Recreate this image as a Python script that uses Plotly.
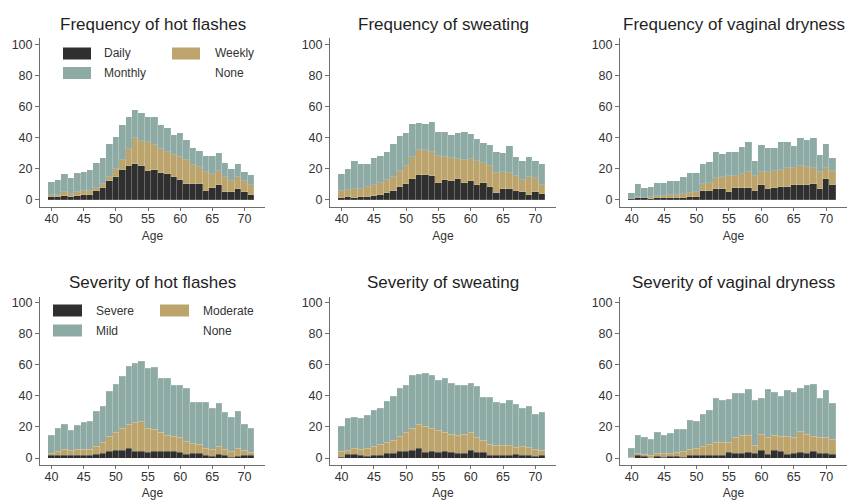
import plotly.graph_objects as go

ages = list(range(40, 72))
x_ticks = [40, 45, 50, 55, 60, 65, 70]
y_ticks = [0, 20, 40, 60, 80, 100]

titles = ["Frequency of hot flashes", "Frequency of sweating", "Frequency of vaginal dryness",
          "Severity of hot flashes", "Severity of sweating", "Severity of vaginal dryness"]
freq_labels = ["Daily", "Weekly", "Monthly", "None"]
sev_labels = ["Severe", "Moderate", "Mild", "None"]

# Frequency of hot flashes
hot_daily = [1.7, 2, 2.5, 2, 2.5, 3, 3.5, 6, 7.5, 12, 15, 19, 22, 23, 22, 18.5, 19, 17.5, 17, 15, 13, 10.5, 10.5, 10, 6, 7.5, 9.5, 5, 5, 7, 5, 3.5]
hot_weekly = [1.3, 1.5, 2.5, 2, 2.5, 2.5, 2.5, 2, 2.5, 2.5, 5, 6.5, 11, 16.5, 16, 18.5, 16, 15.5, 13.5, 14, 14.5, 15, 12, 11, 12, 9.5, 9, 10, 7.5, 7.5, 7, 6]
hot_monthly = [8.5, 9.5, 11.5, 10, 12.5, 12.5, 13.5, 15.5, 17, 21.5, 20.5, 22.5, 20, 18.5, 18, 16.5, 18.5, 15, 16, 13, 15.5, 13, 11, 10.5, 10.5, 11, 11.5, 9, 7.5, 8.5, 6, 6.5]

# Frequency of sweating
sw_daily = [1.3, 2, 1.3, 2, 2, 2.6, 3.4, 4.3, 6, 8.6, 10.3, 13.3, 16.3, 15.9, 15.5, 10.7, 12.9, 12, 13.7, 10.7, 12, 9.9, 10.7, 8.6, 4.3, 6.9, 6.9, 5.6, 5.2, 3.4, 5.2, 3.9]
sw_weekly = [4.7, 4.4, 6.0, 5.3, 6.2, 6.8, 7.3, 8.6, 8.6, 9.9, 11.6, 14.6, 15.5, 16.3, 15.4, 17.6, 15.0, 15.0, 12.5, 15.1, 14.6, 15.4, 12.9, 13.3, 12.9, 11.1, 10.3, 9.9, 7.7, 11.6, 9.0, 5.5]
sw_monthly = [10.7, 13.6, 17.7, 15.7, 14.8, 17.6, 17.6, 17.6, 21.4, 22.5, 21.4, 21.1, 17.7, 16.8, 19.4, 15.5, 15.9, 15.0, 16.8, 18.0, 15.9, 13.7, 12.9, 13.1, 13.3, 12.0, 17.6, 12.0, 12.4, 12.5, 11.1, 13.6]

# Frequency of vaginal dryness
vd_daily = [0.5, 1, 1, 0.5, 1, 1, 1, 1, 1, 1.7, 2.2, 5.6, 5.6, 7.3, 6.9, 5.2, 7.8, 7.8, 7.8, 6, 9.5, 7.3, 7.8, 8.6, 8.6, 9.5, 9.5, 9.5, 10.3, 7.3, 13.8, 9.5]
vd_weekly = [0.4, 1.2, 0.3, 1.2, 1.6, 1.6, 2.0, 2.4, 2.9, 3.0, 3.0, 4.7, 5.6, 6.9, 7.8, 10.3, 7.3, 9.0, 10.3, 9.5, 8.6, 10.8, 10.7, 10.8, 11.7, 11.2, 12.1, 11.6, 10.0, 10.4, 6.5, 9.0]
vd_monthly = [3.8, 7.8, 6.5, 6.9, 8.2, 8.2, 9.0, 8.6, 10.8, 12.5, 12.0, 12.5, 13.4, 16.4, 15.0, 15.1, 15.5, 17.2, 18.9, 9.5, 16.9, 15.1, 14.7, 17.6, 16.7, 13.8, 18.1, 17.7, 19.4, 11.2, 15.5, 8.2]

# Severity of hot flashes
hot_severe = [1.3, 1.3, 1.3, 1.3, 1.3, 1.3, 1.3, 2.1, 3, 3.9, 4.7, 4.7, 6, 4.3, 4.3, 3.4, 4.3, 4.3, 4.3, 3.9, 3.4, 2.1, 2.6, 2.6, 1.3, 0.9, 2.1, 1.7, 0.4, 0.9, 1.7, 1.3]
hot_moderate = [1.3, 3.0, 3.9, 3.4, 4.3, 3.9, 4.3, 5.6, 6.9, 9.8, 12.0, 14.6, 15.5, 18.4, 18.9, 15.9, 14.2, 12.0, 10.3, 9.8, 9.5, 8.6, 6.8, 6.0, 4.7, 4.7, 5.6, 3.5, 3.5, 5.5, 3.0, 2.1]
hot_mild = [11.6, 14.6, 16.7, 13.3, 15.4, 17.5, 18.0, 22.3, 23.1, 29.2, 30.5, 33.1, 37.7, 38.3, 39.0, 38.2, 39.9, 35.2, 36.5, 33.1, 33.9, 33.9, 26.2, 27.4, 29.6, 26.2, 27.1, 24.0, 22.3, 23.6, 16.8, 15.9]

# Severity of sweating
sw_severe = [0.4, 2.1, 2.1, 1.7, 0.9, 1.7, 1.7, 2.6, 2.6, 4.3, 4.3, 5.1, 6, 3.8, 4.3, 3.4, 4.3, 3.4, 3, 3, 5.1, 3.4, 3.4, 1.3, 1.3, 1.7, 1.7, 2.1, 1.3, 1.3, 0.9, 1.7]
sw_moderate = [3.9, 3.0, 3.9, 3.9, 5.5, 6.0, 6.8, 7.7, 8.9, 9.4, 11.9, 14.1, 15.8, 16.7, 14.9, 14.5, 12.4, 12.0, 11.5, 12.4, 11.1, 9.8, 8.1, 7.7, 6.8, 6.4, 6.4, 4.7, 6.0, 5.5, 4.7, 3.4]
sw_mild = [15.7, 20.1, 20.0, 19.6, 21.0, 22.6, 23.1, 26.0, 28.2, 31.2, 30.4, 34.2, 32.0, 34.2, 34.2, 31.7, 34.6, 32.9, 32.5, 31.6, 31.7, 33.0, 27.4, 29.9, 27.4, 26.9, 29.1, 27.8, 24.7, 26.1, 22.6, 24.0]

# Severity of vaginal dryness
vd_severe = [0, 1.7, 0.9, 0, 0.9, 0.4, 0.9, 0.9, 0.4, 1.3, 1.3, 1.7, 1.7, 1.7, 1.3, 3.4, 2.6, 2.6, 3.4, 2.6, 4.7, 2.1, 4.7, 3.9, 2.1, 3, 3.4, 2.6, 3.9, 2.6, 2.6, 2.1]
vd_moderate = [0.4, 0.9, 1.2, 1.7, 1.7, 2.2, 2.1, 2.5, 3.5, 3.9, 4.7, 6.0, 7.3, 8.2, 9.0, 6.9, 10.3, 11.6, 11.2, 5.6, 10.3, 10.8, 9.5, 9.8, 11.6, 10.3, 13.8, 12.4, 9.8, 10.7, 10.3, 9.9]
vd_mild = [6.0, 11.6, 10.8, 10.3, 13.7, 11.6, 12.9, 15.1, 14.6, 18.8, 17.2, 20.6, 21.5, 28.7, 26.6, 27.5, 28.7, 27.4, 29.6, 28.7, 23.6, 30.9, 28.3, 26.2, 29.6, 29.2, 27.4, 31.8, 33.9, 24.9, 30.4, 22.8]

panels = [
    [hot_daily, hot_weekly, hot_monthly],
    [sw_daily, sw_weekly, sw_monthly],
    [vd_daily, vd_weekly, vd_monthly],
    [hot_severe, hot_moderate, hot_mild],
    [sw_severe, sw_moderate, sw_mild],
    [vd_severe, vd_moderate, vd_mild],
]

colors = ["#2f2f2f", "#bca46c", "#8eaaa4"]
W, H = 848, 500
x_dom_px = [(40, 265), (330, 556), (620, 847)]
y_dom_px = [(38, 207), (296.5, 465)]
title_y_px = [24, 282]
FONT = "Liberation Sans, Arial, sans-serif"
TXT = "#333333"
AX = "#6e6e6e"

fig = go.Figure()
layout = dict(width=W, height=H, margin=dict(l=0, r=0, t=0, b=0),
              paper_bgcolor="white", plot_bgcolor="white", barmode="stack",
              bargap=0, showlegend=False, font=dict(family=FONT, color=TXT))
annotations = []
shapes = []

for i, series in enumerate(panels):
    r, c = divmod(i, 3)
    n = i + 1
    xa = "x" if n == 1 else f"x{n}"
    ya = "y" if n == 1 else f"y{n}"
    labels = freq_labels if r == 0 else sev_labels
    for k, vals in enumerate(series):
        fig.add_trace(go.Bar(x=ages, y=vals, name=labels[k], xaxis=xa, yaxis=ya,
                             marker=dict(color=colors[k],
                                         line=dict(color="rgba(255,255,255,0.3)", width=0.5)),
                             width=1.0))
    x0, x1 = x_dom_px[c]
    yt, yb = y_dom_px[r]
    xd = [x0 / W, x1 / W]
    yd = [1 - yb / H, 1 - yt / H]
    layout["xaxis" if n == 1 else f"xaxis{n}"] = dict(
        domain=xd, anchor=ya, range=[38.2, 73.2], tickvals=x_ticks,
        showgrid=False, zeroline=False, showline=True, linecolor=AX, linewidth=1,
        ticks="outside", ticklen=3, tickcolor=AX, tickfont=dict(size=12.5, color=TXT),
        ticklabelstandoff=-3,
        title=dict(text="Age", font=dict(size=12, color=TXT), standoff=6))
    layout["yaxis" if n == 1 else f"yaxis{n}"] = dict(
        domain=yd, anchor=xa, range=[-4.5, 104], tickvals=y_ticks,
        showgrid=False, zeroline=False, showline=True, linecolor=AX, linewidth=1,
        ticks="outside", ticklen=4, tickcolor=AX, tickfont=dict(size=12.5, color=TXT))
    annotations.append(dict(text=titles[i], x=(x0 + x1) / 2 / W, y=1 - title_y_px[r] / H,
                            xref="paper", yref="paper", showarrow=False,
                            xanchor="center", yanchor="middle",
                            font=dict(size=17, color="#1f1f1f")))

# manual legends in first column panels
legend_specs = [
    dict(row=0, cols=[(63, 91, 102), (172, 200, 213)], rows=[53.5, 73], labels=freq_labels),
    dict(row=1, cols=[(53, 82, 94), (160, 189, 201)], rows=[310.5, 330.5], labels=sev_labels),
]
for spec in legend_specs:
    for j, lab in enumerate(spec["labels"]):
        rr, cc = divmod(j, 2)
        kx0, kx1, tx = spec["cols"][cc]
        yc = spec["rows"][rr]
        if j < 3:
            shapes.append(dict(type="rect", xref="paper", yref="paper",
                               x0=kx0 / W, x1=kx1 / W, y0=1 - (yc + 6) / H, y1=1 - (yc - 6) / H,
                               fillcolor=colors[j], line=dict(width=0)))
        annotations.append(dict(text=lab, x=tx / W, y=1 - yc / H, xref="paper", yref="paper",
                                showarrow=False, xanchor="left", yanchor="middle",
                                font=dict(size=12, color=TXT)))

layout["annotations"] = annotations
layout["shapes"] = shapes
fig.update_layout(**layout)
fig.write_html("out.html")
